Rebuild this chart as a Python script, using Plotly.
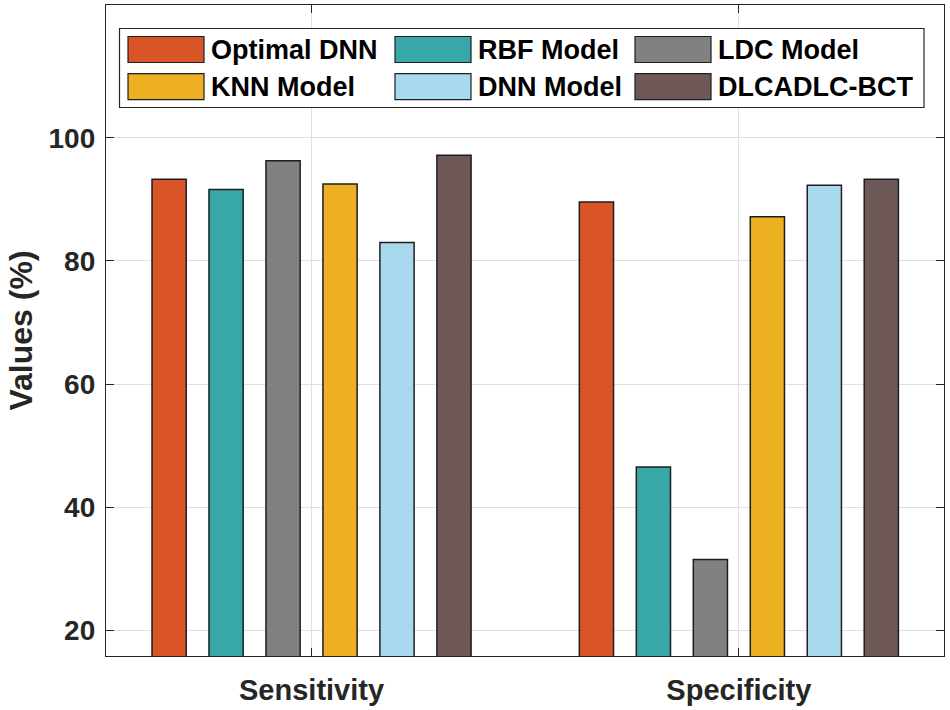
import plotly.graph_objects as go

# ---------------- data ----------------
categories = ["Sensitivity", "Specificity"]
models = ["Optimal DNN", "RBF Model", "LDC Model", "KNN Model", "DNN Model", "DLCADLC-BCT"]
optimal_dnn = [93.3, 89.6]
rbf_model = [91.6, 46.5]
ldc_model = [96.3, 31.5]
knn_model = [92.5, 87.2]
dnn_model = [83.0, 92.3]
dlcadlc_bct = [97.2, 93.3]
y_ticks = [20, 40, 60, 80, 100]

series = [optimal_dnn, rbf_model, ldc_model, knn_model, dnn_model, dlcadlc_bct]
colors = ["#D95426", "#37A7A8", "#818181", "#ECB022", "#A9D9EE", "#6E5958"]

# ---------------- layout geometry ----------------
W_FIG, H_FIG = 950, 710
ML, MR, MT, MB = 106, 6, 5, 54
PW = W_FIG - ML - MR
PH = H_FIG - MT - MB
TXT = "#262626"
FONT = "Liberation Sans, Arial, sans-serif"


def px_x(px):
    return (px - ML) / PW


def px_y(py):
    return 1 - (py - MT) / PH


fig = go.Figure()
for name, vals, col in zip(models, series, colors):
    fig.add_trace(go.Bar(
        x=categories, y=vals, name=name,
        marker=dict(color=col, line=dict(color="#1e1e1e", width=1.5)),
        showlegend=False,
    ))

# ---------------- custom MATLAB-like legend ----------------
shapes = [dict(type="rect", xref="paper", yref="paper",
               x0=px_x(119.5), x1=px_x(924), y0=px_y(107.5), y1=px_y(28.5),
               line=dict(color=TXT, width=1.2), fillcolor="white", layer="above")]
annotations = []
col_x = [128, 395, 635]
row_y = [49.5, 86.7]
sw_w, sw_h = 76, 26
for i, (name, col) in enumerate(zip(models, colors)):
    r, c = divmod(i, 3)
    x0 = col_x[c]
    yc = row_y[r]
    shapes.append(dict(type="rect", xref="paper", yref="paper",
                       x0=px_x(x0), x1=px_x(x0 + sw_w),
                       y0=px_y(yc + sw_h / 2), y1=px_y(yc - sw_h / 2),
                       line=dict(color="#1e1e1e", width=1.2), fillcolor=col, layer="above"))
    annotations.append(dict(xref="paper", yref="paper", x=px_x(x0 + sw_w + 5), y=px_y(yc),
                            xanchor="left", yanchor="middle", showarrow=False, text=name,
                            font=dict(family=FONT, size=27, color="black", weight="bold")))

fig.update_layout(
    width=W_FIG, height=H_FIG,
    margin=dict(l=ML, r=MR, t=MT, b=MB, autoexpand=False),
    paper_bgcolor="white", plot_bgcolor="white",
    barmode="group", bargap=0.2, bargroupgap=0.4,
    shapes=shapes, annotations=annotations,
    font=dict(family=FONT, color=TXT),
)
fig.update_xaxes(
    range=[-0.481, 1.48], tickmode="array", tickvals=categories, ticktext=categories,
    showgrid=True, gridcolor="#E0E0E0", gridwidth=1,
    showline=True, linecolor=TXT, linewidth=1.3, mirror="ticks",
    ticks="inside", ticklen=8, tickcolor=TXT, tickwidth=1.3,
    tickfont=dict(family=FONT, size=29, color=TXT, weight="bold"),
    ticklabelstandoff=8, automargin=False,
)
fig.update_yaxes(
    range=[15.8, 121.6], tickmode="array", tickvals=y_ticks,
    showgrid=True, gridcolor="#E0E0E0", gridwidth=1, zeroline=False,
    showline=True, linecolor=TXT, linewidth=1.3, mirror="ticks",
    ticks="inside", ticklen=8, tickcolor=TXT, tickwidth=1.3,
    tickfont=dict(family=FONT, size=28, color=TXT, weight="bold"),
    ticklabelstandoff=4, automargin=False,
    title=dict(text="Values (%)", standoff=6,
               font=dict(family=FONT, size=32, color=TXT, weight="bold")),
)

fig.write_html("out.html", config={"displayModeBar": False},
               post_script="document.body.style.margin='0px';document.body.style.overflow='hidden';")
